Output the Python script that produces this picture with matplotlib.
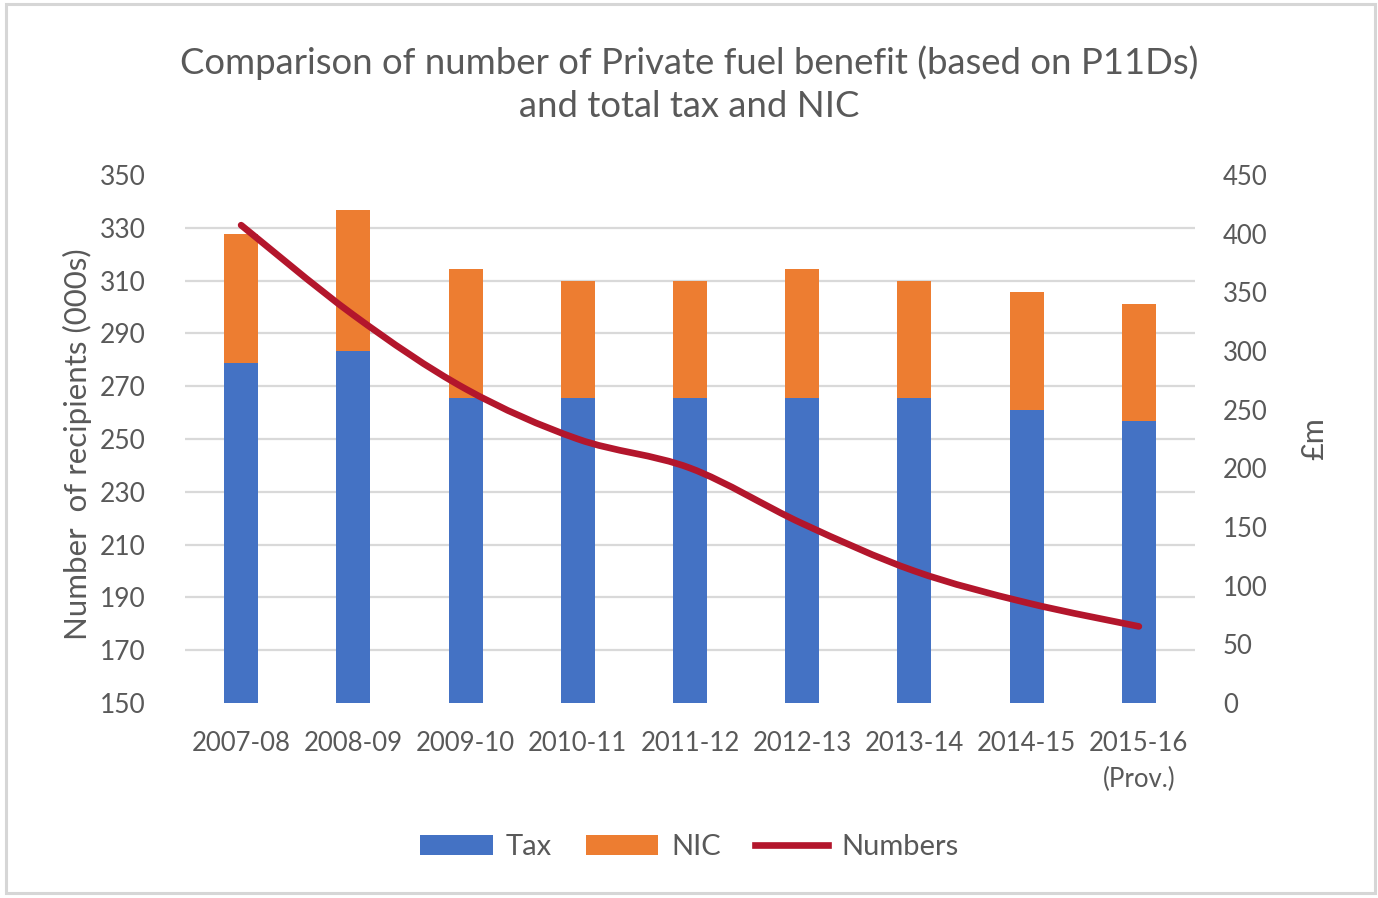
import numpy as np
import matplotlib
matplotlib.use("Agg")
import matplotlib.pyplot as plt
from matplotlib.path import Path
from matplotlib.patches import PathPatch, Patch, Rectangle
from matplotlib.lines import Line2D

# ---- data ----
years = ["2007-08", "2008-09", "2009-10", "2010-11", "2011-12",
         "2012-13", "2013-14", "2014-15", "2015-16\n(Prov.)"]
tax = [290, 300, 260, 260, 260, 260, 260, 250, 240]          # £m
nic = [110, 120, 110, 100, 100, 110, 100, 100, 100]          # £m
numbers = [331, 297, 269, 250, 239, 218, 200, 188, 179]      # 000s recipients
left_ticks = list(range(150, 351, 20))
right_ticks = list(range(0, 451, 50))

plt.rcParams['font.family'] = ['Lato', 'DejaVu Sans']
TXT = '#595959'
BLUE = '#4472C4'
ORANGE = '#ED7D31'
RED = '#B3162C'
GRID = '#D9D9D9'

W, H = 1378, 898
fig = plt.figure(figsize=(W / 100, H / 100), dpi=100)
fig.patch.set_facecolor('white')

# outer chart border
fig.add_artist(Rectangle((6 / W, 5 / H), 1369 / W, 889 / H, transform=fig.transFigure,
                         fill=False, edgecolor='#D6D6D6', lw=2.2))

ax_bar = fig.add_axes([185 / W, 1 - 703 / H, 1010 / W, 528 / H])
x = np.arange(len(years))
ax_bar.bar(x, tax, width=0.303, color=BLUE, zorder=2)
ax_bar.bar(x, nic, bottom=tax, width=0.303, color=ORANGE, zorder=2)
ax_bar.set_xlim(-0.5, len(years) - 0.5)
ax_bar.set_ylim(0, 450)

ax_line = ax_bar.twinx()
ax_line.set_ylim(150, 350)

# bar axis on the right, line axis on the left
ax_bar.yaxis.tick_right()
ax_bar.yaxis.set_label_position('right')
ax_line.yaxis.tick_left()
ax_line.yaxis.set_label_position('left')

ax_bar.set_yticks(right_ticks)
ax_line.set_yticks(left_ticks)

# gridlines follow the left axis ticks, drawn behind the bars
grid_vals = [(t - 150) * 450 / 200 for t in left_ticks]
ax_bar.set_yticks(grid_vals, minor=True)
ax_bar.grid(True, which='minor', axis='y', color=GRID, lw=1.6, zorder=0)
ax_bar.grid(False, which='major')
ax_bar.set_axisbelow(True)

ax_bar.set_xticks(x)
ax_bar.set_xticklabels(years, linespacing=1.55)

for a in (ax_bar, ax_line):
    for s in a.spines.values():
        s.set_visible(False)

ax_bar.tick_params(axis='x', length=0, pad=20, labelsize=18.5, labelcolor=TXT)
ax_bar.tick_params(axis='y', which='both', length=0, pad=20, labelsize=18.5, labelcolor=TXT)
ax_line.tick_params(axis='y', length=0, pad=28, labelsize=19, labelcolor=TXT)
for lab in ax_bar.get_yticklabels():
    lab.set_ha('left')

# smoothed line (Bezier through data points)
pts = np.column_stack([x, numbers]).astype(float)
n = len(pts)
verts = [pts[0]]
codes = [Path.MOVETO]
for i in range(n - 1):
    p0 = pts[i - 1] if i > 0 else pts[i]
    p1 = pts[i]
    p2 = pts[i + 1]
    p3 = pts[i + 2] if i + 2 < n else pts[i + 1]
    c1 = p1 + (p2 - p0) / 6.0
    c2 = p2 - (p3 - p1) / 6.0
    verts += [c1, c2, p2]
    codes += [Path.CURVE4] * 3
ax_line.add_patch(PathPatch(Path(verts, codes), fill=False, edgecolor=RED,
                            lw=4.8, capstyle='round', joinstyle='round', zorder=3))

ax_line.set_ylabel("Number  of recipients (000s)", fontsize=22.5, color=TXT)
ax_line.yaxis.set_label_coords(-0.092, 0.49)
ax_bar.set_ylabel("£m", fontsize=22, color=TXT, rotation=90)
ax_bar.yaxis.set_label_coords(1.104, 0.5)

fig.text(0.5, 1 - 84 / H,
         "Comparison of number of Private fuel benefit (based on P11Ds)\nand total tax and NIC",
         ha='center', va='center', fontsize=26.3, color=TXT, linespacing=1.38)

handles = [Patch(facecolor=BLUE, edgecolor='none', label='Tax'),
           Patch(facecolor=ORANGE, edgecolor='none', label='NIC'),
           Line2D([0], [0], color=RED, lw=4.8, label='Numbers')]
leg = fig.legend(handles=handles, loc='center', bbox_to_anchor=(0.5, 1 - 847 / H),
                 ncol=3, frameon=False, fontsize=21, handlelength=2.5,
                 handletextpad=0.45, columnspacing=1.15)
for t in leg.get_texts():
    t.set_color(TXT)

fig.savefig("out.png", dpi=100, facecolor='white')
